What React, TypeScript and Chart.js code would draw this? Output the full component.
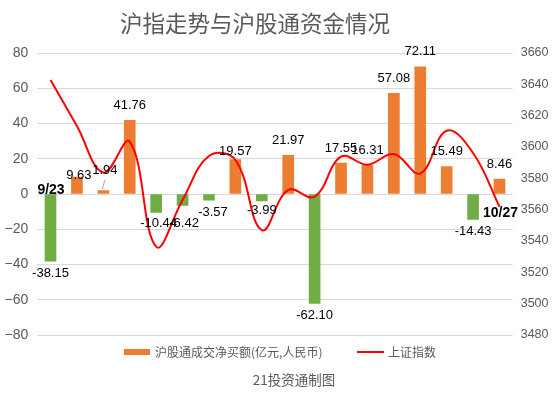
import React, { useEffect, useRef } from 'react';
import { Chart, registerables } from 'chart.js';

Chart.register(...registerables);

// ---- data ----
const dates = ['9/23', '9/24', '9/27', '9/28', '9/29', '9/30', '10/8', '10/11', '10/12', '10/15', '10/18', '10/19', '10/20', '10/21', '10/22', '10/25', '10/26', '10/27'];
const netBuy = [-38.15, 9.63, 1.94, 41.76, -10.44, -6.42, -3.57, 19.57, -3.99, 21.97, -62.1, 17.55, 16.31, 57.08, 72.11, 15.49, -14.43, 8.46];
const shIndex = [3642.8, 3613.4, 3583.7, 3603.4, 3536.4, 3566.2, 3594.3, 3591.7, 3547.0, 3572.6, 3568.3, 3593.8, 3588.7, 3595.5, 3583.2, 3610.4, 3596.2, 3561.9];

const leftAxis = { min: -80, max: 80, step: 20 };
const rightAxis = { min: 3480, max: 3660, step: 20 };

const titleText = '沪指走势与沪股通资金情况';
const barLegend = '沪股通成交净买额(亿元,人民币)';
const lineLegend = '上证指数';
const footerText = '21投资通制图';

// ---- styles ----
const W = 554;
const H = 399;
const ORANGE = '#ED7D31';
const GREEN = '#70AD47';
const RED = '#FF0000';
const GRAY = '#595959';
const GRID = '#D9D9D9';
const CJK = '"Noto Sans CJK SC", "Noto Sans", sans-serif';
const NUM = '"Liberation Sans", Arial, sans-serif';

// label nudges (dx, dy relative to default placement)
const labelNudge: Record<number, [number, number]> = {
  1: [2, 13],
  2: [1.5, -5.5],
  4: [2.5, -1],
  5: [1.5, 6],
  6: [4, 0.5],
  7: [0, 6.5],
  8: [0, -3],
};

const overlayPlugin = {
  id: 'overlay',
  afterDatasetsDraw(chart: any) {
    const ctx = chart.ctx as CanvasRenderingContext2D;
    const barMeta = chart.getDatasetMeta(1);
    const lineMeta = chart.getDatasetMeta(0);
    ctx.save();
    ctx.font = `13px ${NUM}`;
    ctx.fillStyle = '#000';
    ctx.textAlign = 'center';
    ctx.textBaseline = 'middle';
    barMeta.data.forEach((bar: any, i: number) => {
      const v = netBuy[i];
      const [dx, dy] = labelNudge[i] || [0, 0];
      const x = bar.x + dx;
      const y = v >= 0 ? bar.y - 15 + dy : bar.y + 12 + dy;
      if (i === 2) {
        ctx.save();
        ctx.strokeStyle = '#8EA9C1';
        ctx.lineWidth = 1;
        ctx.beginPath();
        ctx.moveTo(bar.x + 1.5, y + 10);
        ctx.lineTo(bar.x - 1, bar.y - 1.5);
        ctx.stroke();
        ctx.restore();
      }
      ctx.fillText(v.toFixed(2), x, y);
    });
    // date annotations
    ctx.font = `bold 14px ${NUM}`;
    const first = barMeta.data[0];
    ctx.fillText(dates[0], first.x + 0.5, first.base - 4);
    const lastPt = lineMeta.data[lineMeta.data.length - 1];
    ctx.fillText(dates[dates.length - 1], lastPt.x + 1, lastPt.y + 6);
    ctx.restore();
  },
  afterDraw(chart: any) {
    const ctx = chart.ctx as CanvasRenderingContext2D;
    ctx.save();
    ctx.textBaseline = 'middle';
    // title
    ctx.fillStyle = GRAY;
    ctx.textAlign = 'center';
    ctx.font = `22.5px ${CJK}`;
    ctx.fillText(titleText, 255, 23);
    // legend
    ctx.fillStyle = ORANGE;
    ctx.fillRect(124, 349, 26, 6);
    ctx.fillStyle = GRAY;
    ctx.textAlign = 'left';
    ctx.font = `12px ${CJK}`;
    ctx.fillText(barLegend, 155, 352);
    ctx.strokeStyle = RED;
    ctx.lineWidth = 2;
    ctx.beginPath();
    ctx.moveTo(357, 352);
    ctx.lineTo(384, 352);
    ctx.stroke();
    ctx.fillText(lineLegend, 388, 352);
    // footer
    ctx.textAlign = 'center';
    ctx.font = `13.5px ${CJK}`;
    ctx.fillText(footerText, 294, 380);
    ctx.restore();
  },
};

const fmtTick = (v: number | string) => {
  const n = Number(v);
  return n < 0 ? '\u2212' + Math.abs(n) : String(n);
};

export default function App() {
  const ref = useRef<HTMLCanvasElement>(null);

  useEffect(() => {
    if (!ref.current) return;
    const chart = new Chart(ref.current, {
      type: 'bar',
      data: {
        labels: dates,
        datasets: [
          {
            type: 'line',
            label: lineLegend,
            data: shIndex,
            yAxisID: 'y1',
            borderColor: RED,
            backgroundColor: RED,
            borderWidth: 2,
            pointRadius: 0,
            tension: 0.4,
            fill: false,
            order: 0,
          } as any,
          {
            type: 'bar',
            label: barLegend,
            data: netBuy,
            yAxisID: 'y',
            backgroundColor: netBuy.map((v) => (v >= 0 ? ORANGE : GREEN)),
            barThickness: 11,
            order: 1,
          },
        ],
      },
      options: {
        responsive: false,
        animation: false,
        devicePixelRatio: 1,
        layout: { padding: { top: 53, bottom: 64, left: 0, right: 0 } },
        plugins: {
          legend: { display: false },
          title: { display: false },
          tooltip: { enabled: false },
        },
        scales: {
          x: { display: false, offset: true, grid: { display: false } },
          y: {
            position: 'left',
            min: leftAxis.min,
            max: leftAxis.max,
            ticks: {
              stepSize: leftAxis.step,
              color: GRAY,
              font: { family: NUM, size: 14 },
              padding: 9,
              callback: (v: any) => fmtTick(v),
            },
            grid: { color: GRID, lineWidth: 1, drawTicks: false },
            border: { display: false },
            afterFit: (s: any) => {
              s.width = 37.3;
            },
          },
          y1: {
            position: 'right',
            min: rightAxis.min,
            max: rightAxis.max,
            ticks: {
              stepSize: rightAxis.step,
              color: GRAY,
              font: { family: NUM, size: 12.5 },
              padding: 8,
              callback: (v: any) => String(v),
            },
            grid: { display: false, drawTicks: false },
            border: { display: false },
            afterFit: (s: any) => {
              s.width = 41.3;
            },
          },
        },
      },
      plugins: [overlayPlugin],
    });
    return () => chart.destroy();
  }, []);

  return (
    <div style={{ position: 'fixed', left: 0, top: 0, width: W, height: H, background: '#fff' }}>
      <canvas ref={ref} width={W} height={H} style={{ display: 'block', width: W, height: H }} />
    </div>
  );
}
